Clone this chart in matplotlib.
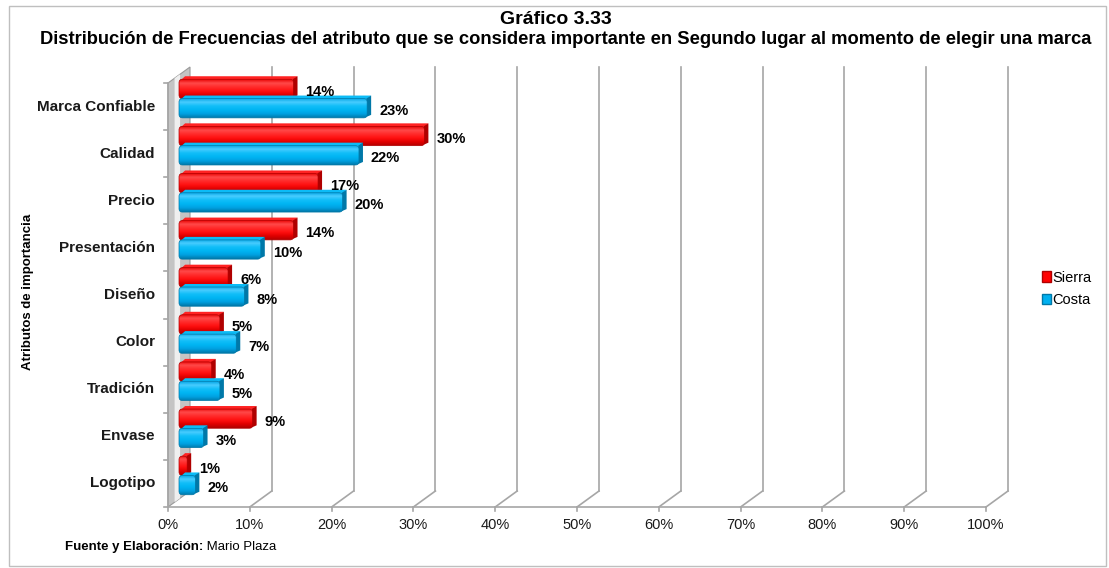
import matplotlib
matplotlib.use("Agg")
import matplotlib.pyplot as plt
from matplotlib.patches import Polygon, Rectangle, Patch, FancyBboxPatch
from matplotlib.colors import LinearSegmentedColormap
from matplotlib.lines import Line2D
import numpy as np

plt.rcParams['font.family'] = ['Liberation Sans', 'DejaVu Sans']

# ---- data ----
categories = ["Marca Confiable", "Calidad", "Precio", "Presentación", "Diseño",
              "Color", "Tradición", "Envase", "Logotipo"]
sierra = [14, 30, 17, 14, 6, 5, 4, 9, 1]
costa = [23, 22, 20, 10, 8, 7, 5, 3, 2]
series_names = ["Sierra", "Costa"]
x_ticks = [0, 10, 20, 30, 40, 50, 60, 70, 80, 90, 100]

title_1 = "Gráfico 3.33"
title_2 = ("Distribución de Frecuencias del atributo que se considera importante "
           "en Segundo lugar al momento de elegir una marca")
y_title = "Atributos de importancia"

# ---- styling ----
W, H = 1109, 568
RED, RED_DARK = "#FF0000", "#B00000"
BLUE, BLUE_DARK = "#00B0F0", "#0078A8"
red_cmap = LinearSegmentedColormap.from_list(
    "red3d", ["#B00000", "#E00000", "#FF1010", "#FF2A2A", "#FF4A4A", "#E80000"])
blue_cmap = LinearSegmentedColormap.from_list(
    "blue3d", ["#0078A8", "#00A0E0", "#00B4F2", "#10BEF8", "#48CCFF", "#00A4E4"])
GRID = "#A6A6A6"
DEPTH = (22, 16)        # pixel shift of the back wall
MID = (11, 8)           # pixel shift of the bar plane
BAR_SIDE = (4, 3)       # visible thickness of each bar

fig = plt.figure(figsize=(W / 100, H / 100), dpi=100)
left_px, right_px, top_px, bot_px = 168, 986, 83, 507
ax = fig.add_axes([left_px / W, 1 - bot_px / H,
                   (right_px - left_px) / W, (bot_px - top_px) / H])
n = len(categories)
ax.axis("off")

# pixel offsets expressed in data units
sx = (right_px - left_px) / 100.0
sy = (bot_px - top_px) / float(n)
def off(p):
    return p[0] / sx, p[1] / sy

bdx, bdy = off(DEPTH)
mdx, mdy = off(MID)
tdx, tdy = off(BAR_SIDE)

# chart border
fig.patches.append(Rectangle((9 / W, 2 / H), (W - 12) / W, (H - 8) / H,
                             transform=fig.transFigure, fill=False,
                             edgecolor="#BFBFBF", lw=1.0))

# left wall
ax.add_patch(Polygon([(0, 0), (0, n), (bdx, n + bdy), (bdx, bdy)], closed=True,
                     facecolor="#C4C4C4", edgecolor="#9A9A9A", lw=0.8,
                     clip_on=False, zorder=1))
ax.add_patch(Polygon([(bdx * 0.3, bdy * 0.3), (bdx * 0.3, n + bdy * 0.3),
                      (bdx * 0.55, n + bdy * 0.55), (bdx * 0.55, bdy * 0.55)], closed=True,
                     facecolor="#EFEFEF", edgecolor="none", clip_on=False, zorder=1))

# back-wall gridlines and floor diagonals
for v in x_ticks[1:]:
    ax.add_line(Line2D([v + bdx, v + bdx], [bdy, n + bdy], color=GRID, lw=1.2,
                       clip_on=False, zorder=1))
    ax.add_line(Line2D([v, v + bdx], [0, bdy], color=GRID, lw=1.2,
                       clip_on=False, zorder=1))

# front axes
ax.add_line(Line2D([0, 100], [0, 0], color=GRID, lw=1.2, clip_on=False, zorder=1))
ax.add_line(Line2D([0, 0], [0, n], color=GRID, lw=1.2, clip_on=False, zorder=1))
tick_dx, tick_dy = off((4, 4))
for v in x_ticks:
    ax.add_line(Line2D([v, v], [0, -tick_dy], color=GRID, lw=1.2, clip_on=False))
    ax.text(v, -18 / sy, f"{v}%", ha="center", va="center", fontsize=10.5, color="#1a1a1a")
for k in range(n + 1):
    ax.add_line(Line2D([-tick_dx, 0], [k, k], color=GRID, lw=1.2, clip_on=False))

grad = np.linspace(0, 1, 64).reshape(-1, 1)
r_px = 3.5
round_size = r_px / sx
aspect = sx / sy


def bar3d(y0, h, val, dark, cmap, z):
    x0 = mdx
    x1 = val + mdx
    y0 = y0 + mdy
    y1 = y0 + h
    # top and end faces
    ax.add_patch(Polygon([(x0 + round_size * 0.6, y1 - tdy * 0.2), (x1, y1 - tdy * 0.2),
                          (x1 + tdx, y1 + tdy), (x0 + tdx + round_size * 0.6, y1 + tdy)],
                         closed=True, facecolor=cmap(0.55), edgecolor="none",
                         clip_on=False, zorder=z))
    ax.add_patch(Polygon([(x1 - tdx * 0.2, y0 + tdy * 0.3), (x1 + tdx, y0 + tdy),
                          (x1 + tdx, y1 + tdy), (x1 - tdx * 0.2, y1)],
                         closed=True, facecolor=dark, edgecolor="none",
                         clip_on=False, zorder=z))
    # front face with a vertical shading
    face = FancyBboxPatch((x0, y0), val, h,
                          boxstyle=f"round,pad=0,rounding_size={round_size}",
                          mutation_aspect=aspect, facecolor="none",
                          edgecolor=dark, lw=0.5, clip_on=False, zorder=z + 0.2)
    ax.add_patch(face)
    im = ax.imshow(grad, cmap=cmap, origin="lower", aspect="auto",
                   extent=(x0, x1, y0, y1), zorder=z + 0.1, interpolation="bilinear")
    im.set_clip_path(face)
    im.set_clip_box(fig.bbox)


bh = 0.41
lab_dx, lab_dy = off((8, -3))
for i, cat in enumerate(categories):
    yc = n - i - 0.5
    bar3d(yc, bh, sierra[i], RED_DARK, red_cmap, 3 + i * 0.01)
    bar3d(yc - bh, bh, costa[i], BLUE_DARK, blue_cmap, 4 + i * 0.01)
    ax.text(sierra[i] + mdx + tdx + lab_dx, yc + bh / 2 + mdy + lab_dy, f"{sierra[i]}%",
            ha="left", va="center", fontsize=10.5, fontweight="bold", zorder=6)
    ax.text(costa[i] + mdx + tdx + lab_dx, yc - bh / 2 + mdy + lab_dy, f"{costa[i]}%",
            ha="left", va="center", fontsize=10.5, fontweight="bold", zorder=6)
    ax.text(-13 / sx, yc, cat, ha="right", va="center", fontsize=11,
            fontweight="bold", color="#1a1a1a")

ax.set_xlim(0, 100)
ax.set_ylim(0, n)

# titles
fig.text(556 / W, 1 - 19 / H, title_1, ha="center", va="center",
         fontsize=14, fontweight="bold")
fig.text(566 / W, 1 - 40 / H, title_2, ha="center", va="center",
         fontsize=13.2, fontweight="bold")
fig.text(28 / W, 1 - 292 / H, y_title, ha="center", va="center", rotation=90,
         fontsize=9.5, fontweight="bold")

# legend
handles = [Patch(facecolor=RED, edgecolor=RED_DARK, label=series_names[0]),
           Patch(facecolor=BLUE, edgecolor=BLUE_DARK, label=series_names[1])]
fig.legend(handles=handles, loc="center left", bbox_to_anchor=(1036 / W, 1 - 289 / H),
           frameon=False, fontsize=10.5, handlelength=0.6, handleheight=0.7,
           handletextpad=0.1, labelspacing=0.6, borderaxespad=0)

# source note
src = fig.text(65 / W, 1 - 547 / H, "Fuente y Elaboración:", ha="left", va="center",
               fontsize=9.5, fontweight="bold")
fig.canvas.draw()
ax.annotate(" Mario Plaza", xy=(1, 0.5), xycoords=src, ha="left", va="center",
            fontsize=9.5, annotation_clip=False)

fig.savefig("out.png", dpi=100)
